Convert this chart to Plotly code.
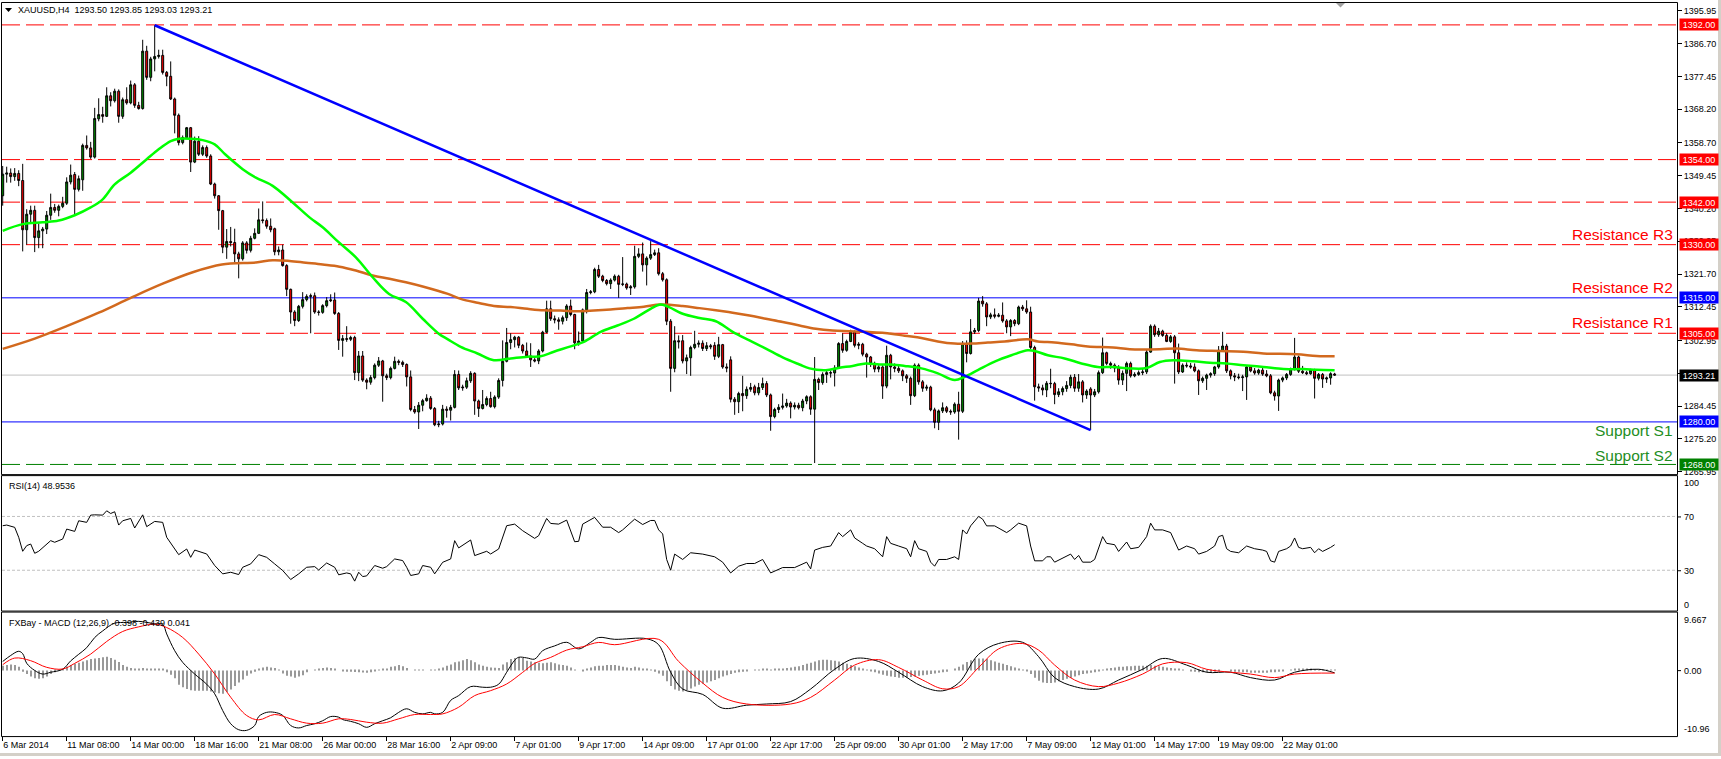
import plotly.graph_objects as go

W, H = 1721, 759

# ---------------- price data (H4 bars, index 0..333) ----------------
opens = [
1343.8,1349.9,1350.2,1349.2,1350.1,1348.1,1334.2,1338.6,1339.7,1332.0,
1333.9,1334.4,1338.3,1340.5,1339.7,1340.8,1341.7,1347.7,1349.8,1345.6,
1348.3,1358.0,1357.3,1354.7,1365.5,1366.7,1366.2,1372.0,1370.6,1373.3,
1366.2,1370.9,1370.0,1375.1,1369.3,1368.4,1384.6,1377.2,1382.4,1383.1,
1383.4,1378.6,1377.5,1371.1,1366.5,1358.8,1360.2,1363.0,1353.3,1359.2,
1355.5,1357.4,1355.0,1347.1,1343.8,1339.6,1329.3,1330.9,1330.6,1327.4,
1326.0,1330.5,1328.4,1331.8,1333.2,1337.0,1336.8,1335.2,1334.5,1328.0,
1328.5,1324.1,1317.4,1311.0,1308.6,1312.6,1314.5,1315.4,1315.6,1311.0,
1310.9,1312.8,1314.2,1314.4,1310.6,1303.0,1303.5,1303.3,1303.8,1293.9,
1298.6,1291.8,1291.2,1292.5,1296.0,1297.2,1293.0,1292.5,1295.1,1297.1,
1296.8,1296.2,1292.7,1283.5,1282.8,1284.7,1286.0,1286.7,1283.8,1279.2,
1279.4,1283.6,1283.3,1284.1,1293.4,1289.6,1289.8,1291.6,1293.7,1285.9,
1283.8,1284.9,1286.6,1284.3,1287.0,1291.7,1297.1,1302.4,1303.2,1303.9,
1301.6,1300.0,1298.6,1297.5,1297.2,1300.0,1305.3,1311.9,1309.1,1308.8,
1308.4,1309.4,1312.7,1310.3,1302.3,1302.8,1311.6,1316.5,1316.7,1323.0,
1321.1,1319.9,1319.0,1320.0,1321.1,1318.8,1318.9,1317.8,1318.1,1326.7,
1327.4,1324.3,1326.2,1327.2,1327.7,1321.8,1320.1,1308.4,1295.1,1302.9,
1302.9,1297.2,1298.1,1301.0,1301.9,1302.2,1300.7,1301.5,1301.6,1298.5,
1301.8,1295.5,1297.5,1286.4,1285.7,1288.0,1287.4,1289.2,1289.9,1288.2,
1289.7,1290.8,1287.6,1281.5,1283.5,1284.1,1284.5,1285.3,1284.2,1284.7,
1284.0,1285.9,1287.1,1283.6,1292.0,1291.1,1293.4,1293.9,1293.8,1295.2,
1302.1,1300.2,1302.7,1305.4,1301.6,1301.9,1299.1,1298.3,1296.5,1294.9,
1295.5,1290.1,1298.8,1295.5,1295.1,1294.4,1293.0,1292.3,1287.4,1296.0,
1291.3,1289.5,1289.8,1283.4,1279.9,1283.1,1284.0,1283.0,1282.8,1285.0,
1283.0,1302.1,1299.3,1305.4,1305.8,1314.1,1313.3,1309.6,1310.2,1309.8,
1310.1,1308.5,1306.8,1308.6,1307.7,1312.4,1311.9,1311.0,1301.0,1289.9,
1289.6,1289.0,1290.9,1290.8,1287.7,1288.5,1289.4,1290.3,1292.6,1289.5,
1291.3,1287.6,1289.3,1287.6,1288.5,1293.9,1299.5,1296.5,1296.0,1295.2,
1291.8,1293.7,1296.5,1293.0,1293.4,1293.9,1294.1,1299.7,1307.0,1304.6,
1305.6,1304.4,1302.7,1304.0,1299.5,1294.1,1296.0,1295.8,1295.5,1294.4,
1291.6,1292.3,1293.2,1293.6,1295.5,1300.2,1301.4,1294.4,1293.0,1292.7,
1292.5,1292.7,1295.5,1294.4,1293.8,1294.6,1293.5,1293.0,1288.2,1287.3,
1291.8,1292.4,1293.4,1294.9,1298.3,1294.3,1293.9,1293.6,1294.6,1292.3,
1293.4,1292.1,1292.4,1293.5]
highs = [
1352.2,1352.0,1351.5,1351.6,1351.0,1352.8,1340.0,1341.0,1341.0,1336.0,
1335.0,1339.5,1344.4,1341.5,1341.3,1343.5,1349.0,1352.6,1350.5,1349.5,
1358.5,1360.8,1359.0,1368.6,1371.3,1368.9,1374.4,1373.0,1374.0,1373.8,
1371.5,1374.4,1376.3,1375.6,1370.3,1387.8,1386.1,1383.0,1391.9,1385.0,
1385.0,1379.0,1381.7,1371.5,1367.0,1360.8,1363.2,1363.2,1360.5,1360.6,
1358.0,1358.0,1355.5,1347.5,1344.0,1339.8,1334.4,1335.0,1334.5,1328.0,
1331.0,1331.0,1332.5,1334.6,1340.2,1342.2,1337.4,1337.4,1334.8,1329.5,
1330.0,1324.5,1317.6,1311.5,1313.0,1316.6,1316.0,1316.2,1316.5,1311.5,
1313.2,1315.2,1316.0,1316.5,1311.0,1304.5,1307.0,1304.3,1304.3,1300.0,
1300.0,1292.3,1293.2,1296.5,1298.3,1297.5,1293.6,1295.6,1298.4,1297.6,
1297.3,1296.5,1294.5,1284.5,1285.6,1286.5,1287.8,1287.3,1284.2,1280.3,
1284.8,1284.4,1284.8,1294.6,1294.5,1290.5,1292.5,1294.3,1294.0,1286.3,
1289.0,1287.2,1288.5,1287.5,1292.3,1303.0,1306.5,1305.0,1304.3,1304.2,
1302.0,1302.4,1302.2,1298.0,1300.5,1305.7,1314.2,1314.2,1310.0,1309.5,
1310.0,1313.2,1314.5,1310.5,1305.5,1312.0,1317.5,1317.2,1323.5,1324.3,
1321.5,1320.3,1320.5,1321.6,1321.5,1326.5,1319.3,1318.6,1329.7,1329.0,
1330.6,1326.7,1331.0,1328.6,1329.0,1322.3,1320.5,1309.0,1307.0,1304.4,
1304.5,1299.0,1301.5,1305.7,1303.0,1303.0,1302.5,1302.0,1302.5,1304.0,
1302.0,1296.5,1298.5,1287.0,1288.5,1293.0,1290.0,1291.0,1290.5,1291.0,
1292.5,1291.5,1288.0,1284.0,1285.0,1288.0,1286.5,1285.8,1285.5,1285.4,
1286.5,1287.5,1287.5,1298.3,1292.5,1294.0,1294.5,1294.5,1296.0,1302.5,
1305.0,1303.2,1306.0,1305.8,1302.5,1302.3,1299.5,1298.6,1297.0,1296.0,
1296.0,1301.5,1299.2,1296.5,1295.8,1294.8,1293.5,1292.8,1296.5,1296.5,
1291.8,1290.5,1290.2,1284.0,1283.5,1285.5,1284.5,1283.5,1285.5,1288.5,
1302.8,1303.0,1309.0,1306.5,1315.0,1315.5,1313.8,1310.8,1312.0,1310.7,
1313.7,1309.0,1309.0,1309.0,1312.8,1313.0,1314.3,1312.5,1301.5,1290.8,
1290.5,1291.5,1295.0,1291.3,1289.5,1290.0,1291.5,1293.3,1293.5,1293.5,
1291.8,1289.2,1289.8,1289.3,1294.5,1303.8,1299.8,1297.0,1296.5,1296.0,
1294.5,1297.0,1297.0,1294.0,1294.5,1295.0,1300.5,1307.5,1307.5,1306.5,
1306.0,1305.0,1304.5,1304.5,1302.1,1296.5,1296.8,1296.6,1296.5,1294.8,
1292.8,1293.6,1294.0,1295.8,1301.4,1305.4,1302.0,1294.8,1293.8,1293.6,
1293.3,1296.0,1296.0,1295.2,1295.0,1295.2,1294.6,1293.5,1288.8,1292.2,
1292.8,1293.8,1295.3,1303.7,1298.7,1295.8,1294.4,1295.0,1295.0,1293.8,
1293.8,1292.8,1294.0,1293.85]
lows = [
1341.0,1347.5,1347.5,1348.0,1346.5,1328.1,1330.0,1336.0,1327.9,1329.0,
1329.0,1333.0,1337.0,1339.0,1338.0,1340.3,1341.2,1347.0,1338.3,1345.0,
1345.2,1356.8,1354.2,1354.3,1364.8,1364.4,1366.0,1369.0,1370.1,1364.4,
1365.5,1369.5,1369.6,1368.6,1368.1,1368.1,1376.5,1376.1,1378.9,1382.5,
1378.0,1374.7,1370.8,1361.4,1358.0,1358.3,1359.8,1350.5,1353.0,1355.0,
1355.0,1354.5,1346.8,1343.0,1334.2,1327.6,1326.0,1329.5,1325.0,1320.5,
1325.5,1327.5,1327.8,1331.5,1333.0,1336.0,1334.5,1333.5,1327.0,1327.0,
1323.8,1315.5,1307.7,1307.0,1308.2,1312.0,1314.0,1305.0,1310.5,1310.0,
1310.5,1312.3,1313.8,1310.2,1300.3,1298.4,1302.6,1302.8,1291.8,1291.5,
1291.3,1289.2,1290.5,1292.0,1295.5,1285.7,1291.8,1292.0,1294.8,1296.0,
1295.5,1290.0,1283.0,1282.3,1278.0,1283.0,1285.7,1283.4,1278.8,1278.5,
1279.0,1281.2,1280.4,1283.8,1289.0,1288.8,1289.3,1291.0,1282.0,1281.4,
1283.5,1284.4,1284.0,1283.8,1286.5,1290.0,1296.8,1300.5,1301.0,1300.8,
1299.3,1298.2,1295.5,1296.8,1296.3,1299.6,1305.0,1308.5,1307.8,1306.0,
1307.5,1308.5,1309.8,1300.5,1301.5,1302.5,1310.6,1316.0,1316.3,1320.6,
1319.4,1318.5,1317.5,1319.6,1315.0,1318.3,1317.3,1315.8,1317.6,1326.2,
1322.4,1318.5,1325.7,1326.8,1321.3,1319.6,1307.3,1288.5,1294.0,1300.7,
1296.5,1293.5,1293.0,1300.5,1301.0,1300.0,1300.0,1300.5,1297.5,1298.0,
1295.0,1294.0,1285.5,1282.0,1282.5,1283.0,1286.5,1288.5,1287.5,1287.5,
1289.0,1287.0,1277.5,1281.0,1282.5,1283.5,1284.0,1281.0,1283.5,1283.5,
1283.0,1285.0,1282.0,1268.4,1289.0,1290.5,1291.0,1292.5,1290.0,1295.0,
1299.5,1299.8,1302.5,1301.0,1300.5,1298.5,1292.5,1295.5,1294.0,1294.0,
1286.5,1289.5,1292.0,1294.0,1293.8,1291.5,1291.0,1284.8,1287.0,1290.5,
1288.5,1288.8,1283.0,1278.2,1277.7,1282.5,1282.5,1282.0,1282.3,1275.0,
1282.5,1296.8,1299.0,1304.8,1305.3,1312.5,1307.0,1309.0,1309.2,1309.5,
1308.0,1305.0,1304.2,1307.0,1307.3,1311.3,1310.5,1300.5,1286.0,1288.5,
1287.5,1287.0,1289.5,1285.0,1287.0,1287.5,1288.5,1289.5,1288.5,1288.5,
1285.5,1286.5,1277.7,1287.0,1288.0,1293.5,1296.0,1295.0,1294.0,1290.5,
1290.4,1288.7,1292.5,1292.6,1293.0,1293.2,1293.5,1299.5,1304.0,1304.0,
1304.0,1302.5,1302.3,1290.8,1293.5,1293.8,1295.3,1295.0,1294.0,1287.6,
1291.0,1289.0,1292.5,1293.0,1295.0,1299.8,1293.8,1292.0,1291.5,1292.0,
1288.7,1286.2,1294.0,1293.3,1293.3,1293.0,1292.6,1287.8,1286.0,1283.1,
1291.2,1291.8,1293.0,1294.5,1293.8,1293.5,1293.2,1293.3,1286.6,1291.7,
1289.6,1291.0,1290.5,1293.03]
closes = [
1349.9,1350.2,1349.2,1350.1,1348.1,1334.2,1338.6,1339.7,1332.0,1333.9,
1334.4,1338.3,1340.5,1339.7,1340.8,1341.7,1347.7,1349.6,1345.6,1348.6,
1358.0,1357.3,1354.7,1365.6,1366.7,1366.2,1372.0,1370.6,1373.3,1366.2,
1370.9,1370.0,1375.1,1369.3,1368.4,1384.6,1377.2,1382.4,1383.1,1383.4,
1378.6,1377.5,1371.1,1366.5,1358.8,1360.2,1363.0,1353.3,1359.2,1355.5,
1357.4,1355.0,1347.1,1343.8,1339.6,1329.3,1330.9,1330.6,1327.4,1326.0,
1330.5,1328.4,1331.8,1333.2,1337.0,1336.8,1335.2,1334.2,1328.0,1328.5,
1324.1,1317.4,1311.0,1308.6,1312.6,1314.5,1315.4,1315.6,1311.0,1310.9,
1312.8,1314.2,1314.4,1310.6,1303.0,1303.5,1303.3,1303.8,1293.9,1298.6,
1291.8,1291.2,1292.5,1296.0,1297.2,1293.0,1292.5,1295.1,1297.1,1296.8,
1296.2,1292.7,1283.5,1282.8,1284.7,1286.0,1286.7,1283.8,1279.2,1279.4,
1283.6,1283.3,1284.1,1293.4,1289.6,1289.8,1291.6,1293.7,1285.9,1283.8,
1284.9,1286.6,1284.3,1287.0,1291.7,1297.1,1302.4,1303.2,1303.9,1301.6,
1300.0,1298.6,1297.5,1297.2,1300.0,1305.3,1311.9,1309.1,1308.8,1308.4,
1309.4,1312.7,1310.3,1302.3,1302.8,1311.6,1316.5,1316.7,1323.0,1321.1,
1319.9,1319.0,1320.0,1321.1,1318.8,1318.9,1317.8,1318.1,1326.7,1327.4,
1324.3,1326.2,1327.2,1327.7,1321.8,1320.1,1308.4,1295.1,1302.9,1302.6,
1297.2,1298.1,1301.0,1301.9,1302.2,1300.7,1301.5,1301.2,1298.5,1301.8,
1295.5,1295.2,1286.4,1285.7,1288.0,1287.4,1289.2,1289.7,1288.2,1289.7,
1290.8,1287.6,1281.5,1283.5,1284.1,1284.5,1285.3,1284.2,1284.7,1284.0,
1285.9,1287.1,1283.6,1292.0,1291.1,1293.4,1293.9,1293.8,1295.2,1302.1,
1300.2,1302.7,1305.4,1301.6,1301.9,1299.1,1298.3,1296.5,1294.9,1295.5,
1290.1,1298.8,1295.5,1295.1,1294.4,1293.0,1292.3,1287.4,1296.0,1291.3,
1289.5,1289.8,1283.4,1279.9,1283.1,1284.0,1283.0,1282.8,1285.0,1283.0,
1302.1,1299.3,1305.4,1305.8,1314.1,1313.3,1309.6,1310.2,1309.8,1310.1,
1308.5,1306.8,1308.6,1307.7,1312.4,1311.9,1311.0,1301.0,1289.9,1289.6,
1289.0,1290.9,1290.8,1287.7,1288.5,1289.4,1290.3,1292.6,1289.5,1291.3,
1287.6,1288.7,1287.6,1288.5,1293.9,1299.5,1296.5,1296.0,1295.2,1291.8,
1293.7,1296.5,1293.0,1293.4,1293.9,1294.1,1299.7,1307.0,1304.6,1305.6,
1304.4,1302.7,1304.0,1299.5,1294.1,1296.0,1295.8,1295.5,1294.4,1291.6,
1292.3,1293.2,1293.6,1295.5,1300.2,1301.4,1294.4,1293.0,1292.7,1292.5,
1292.7,1295.5,1294.4,1293.8,1294.6,1293.5,1293.0,1288.2,1287.3,1291.8,
1292.4,1293.4,1294.9,1298.3,1294.3,1293.9,1293.6,1294.6,1292.3,1293.4,
1292.1,1292.4,1293.6,1293.21]
bars = list(range(len(closes)))

# moving averages (bar index, value)
ma_fast_x = [0,5,10,14,18,22,25,28,32,36,39,42,44,47,50,53,55.6,60,63.3,67.5,72.5,76.7,80,84,88.3,92.5,96.6,
             100.8,105,109,111.3,114.5,118.7,122.8,127,131.2,134.5,137.8,142,145.3,149.5,153.7,157.8,162,164.5,
             166.6,170,174.2,178.3,182.5,186.7,190.8,195,199.2,201.7,205.8,209.2,212.5,215.8,219.2,222.1,225.5,
             229.7,233.8,238,240.5,243.8,248,252.2,256.3,258,261.3,265.5,269.7,273.8,277.6,281.8,286,289.3,
             292.7,297.7,301.8,306,310.2,315.2,320.2,325.2,328.5,333]
ma_fast_y = [1333.9,1335.8,1336.3,1336.8,1338.3,1340.5,1342.8,1347.0,1350.3,1354.1,1356.9,1359.2,1359.9,1359.9,
             1359.5,1358.3,1355.5,1351.3,1348.9,1346.6,1341.9,1337.7,1334.9,1330.7,1326.4,1320.8,1316.1,1313.8,
             1309.1,1304.9,1303.3,1301.2,1299.3,1297.4,1297.9,1298.4,1298.5,1299.8,1301.3,1302.6,1305.4,1307.2,
             1309.1,1311.9,1313.1,1312.4,1310.5,1309.3,1308.4,1305.4,1303.0,1300.7,1298.2,1296.2,1295.1,1294.6,
             1295.3,1295.8,1296.5,1296.2,1296.2,1295.8,1295.1,1293.7,1291.8,1292.7,1294.6,1297.0,1298.8,1300.2,
             1300.0,1298.8,1297.9,1296.5,1295.5,1295.5,1295.1,1295.2,1296.9,1297.4,1297.1,1296.7,1296.5,1296.0,
             1295.5,1294.9,1294.9,1294.7,1294.6]
ma_slow_x = [0,8,16,24,32,40,47.7,54.8,63.3,67.5,71.7,75.8,80,84.2,88.3,92.5,96.7,100.8,105,111.3,114.5,118.7,
             122.8,127,131.2,135.3,139.5,143.7,147.8,152,156.2,160.3,164.5,170,174.2,178.3,182.5,186.7,190.8,195,
             199.2,203.3,207.5,211.7,215.8,222.1,225.5,229.7,233.8,238,242.2,246.3,250.5,256.3,258.8,263,267.2,
             271.3,277.6,281.8,289.3,293.5,298.5,304.3,310.2,315.2,323.5,328.5,333]
ma_slow_y = [1300.6,1303.5,1307.0,1310.8,1315.0,1319.0,1322.3,1324.4,1325.0,1325.6,1325.4,1324.9,1324.4,1323.8,
             1322.7,1321.3,1320.4,1319.4,1318.2,1316.1,1314.7,1313.6,1312.7,1312.4,1311.9,1311.5,1311.4,1311.2,
             1311.4,1311.7,1312.1,1312.5,1313.1,1312.7,1312.1,1311.5,1310.8,1310.0,1309.1,1308.2,1307.2,1306.3,
             1305.8,1305.6,1305.4,1304.9,1304.3,1303.7,1302.7,1302.1,1302.1,1302.4,1302.7,1303.3,1302.7,1302.4,
             1301.9,1301.3,1301.0,1300.5,1300.5,1300.7,1300.2,1300.0,1299.8,1299.3,1299.1,1298.6,1298.5]

trend_x = [38, 272]
trend_y = [1391.9, 1277.7]

red_levels = [1392.0, 1354.0, 1342.0, 1330.0, 1305.0]
blue_levels = [1315.0, 1280.0]
green_levels = [1268.0]
last_price = 1293.21

price_ticks = [1395.95, 1386.70, 1377.45, 1368.20, 1358.70, 1349.45, 1340.20, 1330.95,
               1321.70, 1312.45, 1302.95, 1293.70, 1284.45, 1275.20, 1265.95]

x_tick_bars = [0, 16, 32, 48, 64, 80, 96, 112, 128, 144, 160, 176, 192, 208, 224, 240, 256, 272, 288, 304, 320]
x_tick_labels = ["6 Mar 2014", "11 Mar 08:00", "14 Mar 00:00", "18 Mar 16:00", "21 Mar 08:00",
                 "26 Mar 00:00", "28 Mar 16:00", "2 Apr 09:00", "7 Apr 01:00", "9 Apr 17:00",
                 "14 Apr 09:00", "17 Apr 01:00", "22 Apr 17:00", "25 Apr 09:00", "30 Apr 01:00",
                 "2 May 17:00", "7 May 09:00", "12 May 01:00", "14 May 17:00", "19 May 09:00",
                 "22 May 01:00"]

# RSI(14)
rsi_x = [0,1,3,4,5,6,7,8,9,12,13,15,16,18,19,21,22,23,25,26,27,28,29,30,32,33,35,36,38,40,41,44,46,47,48,50,51,
         53,55,57,59,60,62,64,66,68,70,72,74,76,78,79,81,83,84,86,87,88,89,90,91,93,95,96,98,100,101,102,104,105,
         107,108,110,112,113,114,117,118,120,121,122,124,126,128,130,133,134,136,137,139,141,143,144,145,148,149,
         150,152,154,155,158,160,162,163,164,165,166,167,168,170,172,175,178,180,182,184,186,188,190,192,195,198,
         201,202,203,205,207,209,210,212,213,215,216,218,220,221,222,224,226,227,228,229,231,232,233,234,236,238,
         239,240,241,242,244,245,246,248,250,251,252,254,256,257,258,260,261,262,263,265,267,268,269,270,272,273,
         274,275,276,278,279,281,282,284,286,287,288,290,292,293,294,296,298,299,301,303,304,305,306,307,309,311,
         313,315,316,317,318,319,321,322,323,324,325,327,328,329,330,332,333]
rsi_y = [63.1,63.6,61.9,54.5,44.1,48.3,49.5,42.6,44.1,52.0,50.8,53.2,60.6,58.9,66.8,65.6,71.0,71.2,71.0,74.2,72.2,
         73.5,63.6,66.8,68.5,61.4,71.2,62.4,66.3,65.6,54.5,41.6,45.8,39.6,45.0,43.3,42.1,33.5,27.3,28.5,26.8,32.2,
         34.7,41.6,39.6,34.7,29.8,23.1,27.3,32.2,32.7,30.2,35.4,32.2,26.6,28.0,27.3,21.9,28.5,25.3,25.8,33.5,31.5,
         32.7,38.4,37.2,32.2,26.1,27.3,33.5,32.2,27.3,35.9,38.4,52.0,46.6,52.5,40.9,43.3,44.1,42.1,45.8,63.1,64.3,
         59.4,53.7,55.7,68.5,64.8,64.3,67.3,51.2,51.5,64.3,69.3,65.6,
         62,62,58,60,68,64,67,67,60,57,38,30,42,38,43,42,40,36,28,33,35,35,38,28,32,32,
         36,31,45,47,48,58,55,60,54,50,48,46,40,55,50,48,46,40,52,46,44,36,33,38,38,40,
         38,60,57,63,70,68,63,63,60,58,60,65,63,48,37,37,40,40,36,39,42,38,41,36,36,38,
         47,55,50,49,44,51,46,47,55,65,60,60,58,52,45,48,46,42,44,48,55,56,46,44,43,48,
         46,45,44,37,36,44,46,48,54,47,46,47,43,46,44,47,48.95]

# MACD(12,26,9)
macd_x = [0,2,4,5,6,8,10,12,15,17,19,21,23,25,28,31,34,38,40,41,43,45,48,51,53,55,57,59,61,63,64,66,68,70,72,74,
          76,78,80,82,84,85,87,89,91,93,95,97,99,101,103,105,107,108,110,112,114,117,120,122,124,126,128,129,131,
          133,135,138,141,144,147,149,153,161,164,167,170,175,180,186,191,197,202,208,213,219,224,230,235,239,244,
          249,255,259,263,268,274,279,285,290,296,301,307,312,318,323,329,333]
macd_y = [1.5,2.5,3.2,2.8,1.2,0.0,-0.6,-0.3,0.2,1.6,2.7,3.8,5.5,6.6,7.9,8.0,8.2,7.8,7.7,6.1,3.3,1.35,-0.6,-2.3,
          -3.9,-6.7,-8.9,-9.9,-10.0,-9.2,-7.7,-7.0,-7.0,-7.5,-9.2,-9.6,-9.2,-8.9,-8.4,-7.7,-7.8,-8.2,-8.5,-8.9,
          -9.5,-8.9,-8.4,-7.9,-7.0,-6.4,-7.0,-7.25,-7.0,-7.25,-7.0,-5.0,-4.2,-2.7,-2.8,-2.8,-2.3,-0.3,1.7,2.2,2.1,
          1.9,3.3,4.1,4.7,3.6,4.7,5.5,5.2,5.3,4.3,-0.3,-3.1,-4.0,-6.3,-5.8,-5.6,-5.2,-3.1,0.2,2.0,1.5,-0.3,-2.7,
          -3.4,-2.1,2.7,4.5,4.7,2.3,-1.2,-2.7,-3.1,-1.6,0.2,2.0,0.9,-0.3,-0.3,-1.2,-1.6,-0.3,0.2,-0.398]
signal_x = [0,3,7,11,15,18,22,26,30,34,38,41,45,49,53,57,61,64,68,72,76,80,84,87,91,95,99,103,107,110,114,118,
            122,126,130,133,137,141,145,149,153,164,169,175,180,186,197,202,208,213,219,224,230,235,239,244,249,
            255,259,263,268,274,279,285,290,296,301,307,312,318,323,333]
signal_y = [0.96,2.07,1.63,0.52,0.24,1.18,2.73,4.84,6.51,7.28,7.73,7.17,5.51,2.73,-0.59,-4.47,-7.53,-8.25,-7.36,
            -8.08,-8.8,-8.8,-8.08,-8.19,-8.64,-8.8,-8.08,-7.36,-7.36,-7.25,-6.14,-4.2,-3.37,-2.26,-0.32,1.18,2.18,
            3.4,3.96,4.68,4.3,5.2,1.5,-2.1,-4.5,-5.6,-5.6,-4.5,-1.6,0.9,1.8,0.5,-1.6,-3.06,-2.7,0.5,3.6,4.5,3.4,
            0.9,-1.6,-2.7,-2.1,-0.6,1.1,1.3,0.2,-0.3,-0.6,-1.2,-0.6,-0.439]
# histogram, one value per bar (0..333)
hist_y = [
0.8,0.9,1.0,0.9,0.6,-0.2,-0.6,-1.0,-1.3,-1.4,
-1.3,-1.0,-0.6,-0.3,0.1,0.3,0.6,0.9,1.1,1.3,
1.5,1.7,1.9,2.0,2.1,2.2,2.3,2.1,1.8,1.4,
0.9,0.6,0.4,0.3,0.3,0.4,0.3,0.3,0.3,0.2,
0.2,-0.3,-0.7,-1.3,-2.4,-2.8,-3.1,-3.3,-3.4,-3.4,
-3.4,-3.4,-3.5,-3.7,-3.8,-3.9,-3.6,-3.2,-2.6,-2.0,
-1.5,-0.9,-0.5,-0.2,0.2,0.5,0.6,0.5,0.4,0.1,
-0.5,-0.9,-1.0,-1.2,-1.0,-0.8,-0.3,0.0,0.1,0.2,
0.4,0.5,0.4,0.3,0.0,-0.15,-0.2,-0.2,-0.25,-0.3,
-0.35,-0.37,-0.3,-0.15,0.05,0.2,0.3,0.6,0.7,0.9,
0.7,0.4,0.0,0.05,0.1,0.05,0.0,0.05,0.1,0.2,
0.5,0.8,1.0,1.35,1.5,1.7,1.9,1.7,1.35,1.0,
0.8,0.6,0.5,0.45,0.4,1.0,1.35,1.9,2.1,2.2,
2.1,1.6,1.5,1.35,1.3,1.2,1.3,1.35,1.2,1.0,
0.9,0.8,0.5,0.1,0.0,-0.05,0.2,0.5,0.7,0.8,
0.8,0.9,0.9,0.9,0.8,0.6,0.5,0.4,0.6,0.5,
0.3,0.2,0.1,-0.2,-0.5,-0.9,-1.8,-2.6,-3.2,-3.4,
-3.5,-3.3,-3.0,-2.7,-2.4,-2.2,-2.0,-1.8,-1.6,-1.3,
-1.0,-0.8,-0.6,-0.4,-0.3,-0.2,-0.1,0.0,0.1,0.1,
0.2,0.2,0.1,0.2,0.3,0.3,0.4,0.5,0.6,0.7,
0.9,1.1,1.3,1.5,1.7,1.8,1.8,1.7,1.6,1.5,
1.3,1.1,0.9,0.7,0.5,0.3,0.1,-0.1,-0.3,-0.5,
-0.7,-0.9,-1.0,-1.1,-1.2,-1.2,-1.2,-1.1,-1.0,-0.9,
-0.8,-0.7,-0.6,-0.5,-0.4,-0.3,-0.2,0.0,0.3,0.6,
1.0,1.4,1.7,1.9,2.0,2.0,1.9,1.7,1.5,1.3,
1.1,0.9,0.7,0.5,0.3,0.1,-0.1,-0.6,-1.2,-1.7,
-2.0,-2.1,-2.1,-2.0,-1.8,-1.6,-1.4,-1.2,-1.0,-0.8,
-0.6,-0.5,-0.4,-0.3,-0.1,0.1,0.3,0.4,0.5,0.6,
0.6,0.7,0.7,0.8,0.8,0.8,0.8,0.9,0.8,0.7,
0.6,0.5,0.4,0.3,0.2,0.1,0.0,-0.1,-0.2,-0.3,
-0.3,-0.3,-0.3,-0.2,-0.1,0.0,0.0,-0.1,-0.2,-0.2,
-0.3,-0.3,-0.4,-0.4,-0.4,-0.4,-0.4,-0.3,-0.3,-0.2,
-0.1,0.0,0.1,0.2,0.3,0.2,0.2,0.2,0.1,0.1,
0.1,0.1,0.05,0.041]

# ---------------- geometry helpers ----------------
def fx(p):
    return p / W

def fy(p):
    return 1 - p / H

FONT = "Liberation Sans, Arial, sans-serif"
X_LEFT, X_RIGHT = 2, 1677
MAIN = (3, 476)
RSI_P = (478, 613)
MACD_P = (615, 739)

fig = go.Figure()

fig.add_trace(go.Candlestick(
    x=bars, open=opens, high=highs, low=lows, close=closes,
    increasing=dict(line=dict(color="black", width=1), fillcolor="#008C00"),
    decreasing=dict(line=dict(color="black", width=1), fillcolor="#FF0000"),
    whiskerwidth=0, xaxis="x", yaxis="y", hoverinfo="skip"))

fig.add_trace(go.Scatter(x=ma_slow_x, y=ma_slow_y, mode="lines", line_shape="spline",
                         line=dict(color="#D2691E", width=2.5), yaxis="y", hoverinfo="skip"))
fig.add_trace(go.Scatter(x=ma_fast_x, y=ma_fast_y, mode="lines", line_shape="spline",
                         line=dict(color="#00FF00", width=2.5), yaxis="y", hoverinfo="skip"))
fig.add_trace(go.Scatter(x=trend_x, y=trend_y, mode="lines",
                         line=dict(color="#0000FF", width=2.5), yaxis="y", hoverinfo="skip"))

fig.add_trace(go.Scatter(x=rsi_x, y=rsi_y, mode="lines", line=dict(color="black", width=1),
                         xaxis="x", yaxis="y2", hoverinfo="skip"))

fig.add_trace(go.Bar(x=bars, y=hist_y, width=0.28, marker=dict(color="#999999", line=dict(width=0)),
                     xaxis="x", yaxis="y3", hoverinfo="skip"))
fig.add_trace(go.Scatter(x=macd_x, y=macd_y, mode="lines", line_shape="spline",
                         line=dict(color="black", width=1), xaxis="x", yaxis="y3", hoverinfo="skip"))
fig.add_trace(go.Scatter(x=signal_x, y=signal_y, mode="lines", line_shape="spline",
                         line=dict(color="#FF0000", width=1), xaxis="x", yaxis="y3", hoverinfo="skip"))

shapes = []
for lv in red_levels:
    shapes.append(dict(type="line", xref="x domain", yref="y", x0=0, x1=1, y0=lv, y1=lv,
                       line=dict(color="#FF0000", width=1, dash="18px,6px"), layer="below"))
for lv in blue_levels:
    shapes.append(dict(type="line", xref="x domain", yref="y", x0=0, x1=1, y0=lv, y1=lv,
                       line=dict(color="#0000FF", width=1), layer="below"))
for lv in green_levels:
    shapes.append(dict(type="line", xref="x domain", yref="y", x0=0, x1=1, y0=lv, y1=lv,
                       line=dict(color="#008000", width=1, dash="18px,6px"), layer="below"))
shapes.append(dict(type="line", xref="x domain", yref="y", x0=0, x1=1, y0=last_price, y1=last_price,
                   line=dict(color="#C0C0C0", width=1), layer="below"))
for lv in (70, 30):
    shapes.append(dict(type="line", xref="x domain", yref="y2", x0=0, x1=1, y0=lv, y1=lv,
                       line=dict(color="#C0C0C0", width=1, dash="3px,2px"), layer="below"))

for (t, b) in (MAIN, RSI_P, MACD_P):
    shapes.append(dict(type="rect", xref="paper", yref="paper",
                       x0=fx(X_LEFT - 0.5), x1=fx(X_RIGHT + 0.5), y0=fy(b + 0.5), y1=fy(t - 0.5),
                       line=dict(color="black", width=1), fillcolor="rgba(0,0,0,0)"))

for ypx in (519, 573, 673.3):
    shapes.append(dict(type="line", xref="paper", yref="paper", x0=fx(1677), x1=fx(1681),
                       y0=fy(ypx), y1=fy(ypx), line=dict(color="black", width=1)))

shapes.append(dict(type="path", xref="paper", yref="paper",
                   path=f"M {fx(1336)} {fy(3)} L {fx(1345)} {fy(3)} L {fx(1340.5)} {fy(7.5)} Z",
                   fillcolor="#A0A0A0", line=dict(width=0)))
shapes.append(dict(type="path", xref="paper", yref="paper",
                   path=f"M {fx(5)} {fy(8)} L {fx(12)} {fy(8)} L {fx(8.5)} {fy(12)} Z",
                   fillcolor="black", line=dict(width=0)))
shapes.append(dict(type="rect", xref="paper", yref="paper", x0=fx(1718), x1=1, y0=0, y1=1,
                   fillcolor="#D4D0C8", line=dict(width=0)))
shapes.append(dict(type="rect", xref="paper", yref="paper", x0=0, x1=1, y0=0, y1=fy(756),
                   fillcolor="#D4D0C8", line=dict(width=0)))

ann = []
def label_box(val, bg, fg="white"):
    ann.append(dict(x=fx(1679), xref="paper", xanchor="left", y=val, yref="y", yanchor="middle",
                    text=f"{val:.2f}", showarrow=False, bgcolor=bg, width=36, height=9, borderpad=1,
                    font=dict(family=FONT, size=9, color=fg), align="center"))

for lv in red_levels:
    label_box(lv, "#FF0000")
for lv in blue_levels:
    label_box(lv, "#0000FF")
for lv in green_levels:
    label_box(lv, "#008000")
label_box(last_price, "#000000")

def text_px(x, y, s, size=9, color="black", xanchor="left", yanchor="middle"):
    ann.append(dict(x=fx(x), y=fy(y), xref="paper", yref="paper", text=s, showarrow=False,
                    xanchor=xanchor, yanchor=yanchor, font=dict(family=FONT, size=size, color=color)))

text_px(16, 10.5, "XAUUSD,H4  1293.50 1293.85 1293.03 1293.21")
text_px(7, 487.5, "RSI(14) 48.9536")
text_px(7, 625, "FXBay - MACD (12,26,9) -0.398 -0.439 0.041")

for s, ypx, col in (("Resistance R3", 235.5, "#FF0000"), ("Resistance R2", 288.5, "#FF0000"),
                    ("Resistance R1", 323.5, "#FF0000"), ("Support S1", 432, "#238E23"),
                    ("Support S2", 457, "#238E23")):
    text_px(1675, ypx, s, size=15.5, color=col, xanchor="right")

for s, ypx in (("100", 485), ("70", 519), ("30", 573), ("0", 607),
               ("9.667", 622.7), ("0.00", 673.3), ("-10.96", 732.3)):
    text_px(1682, ypx, s)

fig.update_layout(
    width=W, height=H, margin=dict(l=0, r=0, t=0, b=0),
    paper_bgcolor="white", plot_bgcolor="white", showlegend=False,
    font=dict(family=FONT, size=9, color="black"),
    shapes=shapes, annotations=ann, hovermode=False,
    xaxis=dict(domain=[fx(X_LEFT), fx(X_RIGHT)], range=[-0.175, 418.6], anchor="y3",
               tickmode="array", tickvals=x_tick_bars, ticktext=x_tick_labels,
               ticks="outside", ticklen=4, tickcolor="black", ticklabelposition="outside right",
               tickfont=dict(family=FONT, size=9, color="black"),
               showgrid=False, zeroline=False, showline=False, rangeslider=dict(visible=False),
               fixedrange=True),
    yaxis=dict(domain=[fy(MAIN[1]), fy(MAIN[0])], range=[1265.27, 1398.18], side="right", anchor="x",
               tickmode="array", tickvals=price_ticks, ticktext=[f"{v:.2f}" for v in price_ticks],
               ticks="outside", ticklen=4, tickcolor="black",
               tickfont=dict(family=FONT, size=9, color="black"),
               showgrid=False, zeroline=False, showline=False),
    yaxis2=dict(domain=[fy(RSI_P[1]), fy(RSI_P[0])], range=[0, 100], side="right", anchor="x",
                showticklabels=False, ticks="", showgrid=False, zeroline=False, showline=False),
    yaxis3=dict(domain=[fy(MACD_P[1]), fy(MACD_P[0])], range=[-10.96, 9.667], side="right", anchor="x",
                showticklabels=False, ticks="", showgrid=False, zeroline=False, showline=False),
)

fig.write_html("out.html", config={"displayModeBar": False})
